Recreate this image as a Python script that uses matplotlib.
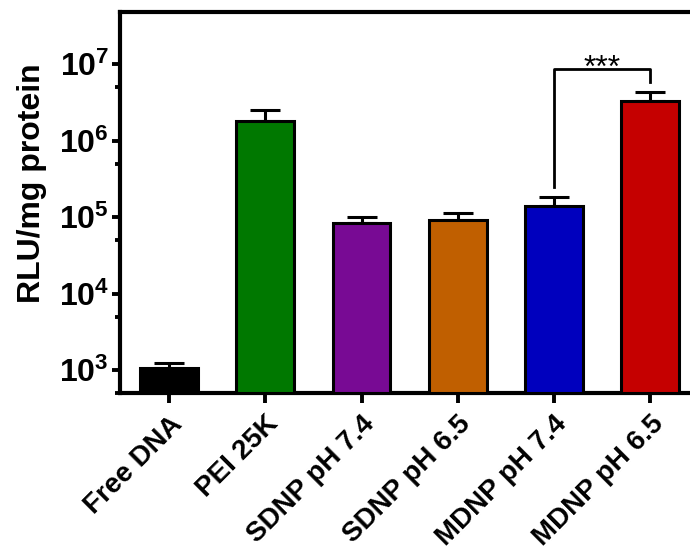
import numpy as np
import matplotlib
matplotlib.use('Agg')
import matplotlib.pyplot as plt
from matplotlib.ticker import FixedLocator, FuncFormatter

plt.rcParams['font.family'] = ['Liberation Sans', 'DejaVu Sans']
plt.rcParams['mathtext.fontset'] = 'custom'
plt.rcParams['mathtext.rm'] = 'Liberation Sans:bold'
plt.rcParams['mathtext.bf'] = 'Liberation Sans:bold'

# data
groups = ['Free DNA', 'PEI 25K', 'SDNP pH 7.4', 'SDNP pH 6.5', 'MDNP pH 7.4', 'MDNP pH 6.5']
rlu = np.array([1050, 1.8e6, 8.5e4, 9.3e4, 1.4e5, 3.3e6])
rlu_err = np.array([180, 0.75e6, 1.6e4, 1.9e4, 0.45e5, 1.0e6])
colors = ['#000000', '#007800', '#780A94', '#C05F00', '#0000BE', '#C50000']

# significance bracket between MDNP pH 7.4 and MDNP pH 6.5
sig_pair = (4, 5)
sig_top = 8.6e6
sig_left_bottom = 2.5e5
sig_right_bottom = 5.8e6
sig_text = '***'

fig = plt.figure(figsize=(6.9, 5.52), dpi=100)
ax = fig.add_axes([0.174, 0.288, 0.845, 0.690])

ymin, ymax = 500, 4.8e7
x = np.arange(len(groups))
ax.bar(x, rlu - ymin, bottom=ymin, width=0.6, color=colors,
       edgecolor='black', linewidth=2.2, zorder=3)
ax.errorbar(x, rlu, yerr=[np.zeros_like(rlu_err), rlu_err], fmt='none',
            ecolor='black', elinewidth=2.2, capsize=11, capthick=2.2, zorder=2)

ax.set_yscale('log')
ax.set_ylim(ymin, ymax)
ax.set_xlim(-0.51, 5.55)

# bracket
x0, x1 = sig_pair
ax.plot([x0, x0, x1, x1], [sig_left_bottom, sig_top, sig_top, sig_right_bottom],
        color='black', lw=2.0, zorder=4)
ax.text((x0 + x1) / 2, sig_top * 0.8, sig_text, ha='center', va='baseline',
        fontsize=23, color='black')

# ticks
ax.yaxis.set_major_locator(FixedLocator([1e3, 1e4, 1e5, 1e6, 1e7]))
ax.yaxis.set_minor_locator(FixedLocator([5e2, 5e3, 5e4, 5e5, 5e6]))
ax.yaxis.set_major_formatter(FuncFormatter(lambda v, p: r'$\mathbf{10^{%d}}$' % round(np.log10(v))))
ax.yaxis.set_minor_formatter(FuncFormatter(lambda v, p: ''))
ax.tick_params(axis='y', which='major', length=6, width=2.8, labelsize=23, pad=2)
ax.tick_params(axis='y', which='minor', length=3.5, width=2.8)
ax.set_xticks(x)
ax.set_xticklabels(groups, rotation=45, ha='right', rotation_mode='anchor',
                   fontsize=20, fontweight='bold')
ax.tick_params(axis='x', which='major', length=7, width=2.8, pad=6)

ax.set_ylabel('RLU/mg protein', fontsize=23, fontweight='bold')
ax.yaxis.set_label_coords(-0.126, 0.55)

for s in ['left', 'bottom', 'top']:
    ax.spines[s].set_linewidth(3.0)
ax.spines['right'].set_visible(False)

fig.savefig('out.png', dpi=100)
